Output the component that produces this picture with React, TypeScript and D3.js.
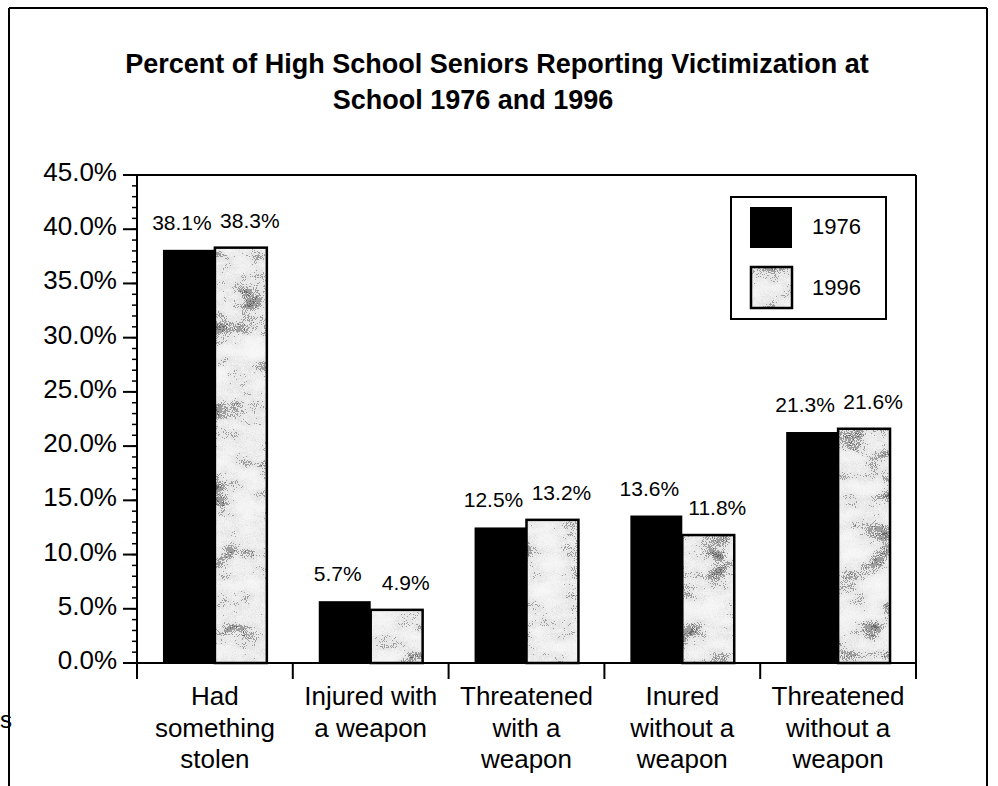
import React from 'react';
import * as d3 from 'd3';

const titleLines = ['Percent of High School Seniors Reporting Victimization at', 'School 1976 and 1996'];
const categories = [
  ['Had', 'something', 'stolen'],
  ['Injured with', 'a weapon'],
  ['Threatened', 'with a', 'weapon'],
  ['Inured', 'without a', 'weapon'],
  ['Threatened', 'without a', 'weapon'],
];
const seriesNames = ['1976', '1996'];
const values1976 = [38.1, 5.7, 12.5, 13.6, 21.3];
const values1996 = [38.3, 4.9, 13.2, 11.8, 21.6];
const yTickValues = [0, 5, 10, 15, 20, 25, 30, 35, 40, 45];

const font = '"Liberation Sans", Arial, Helvetica, sans-serif';

const App = () => {
  const width = 998;
  const height = 786;
  const marginLeft = 137;
  const marginRight = 82;
  const marginTop = 175;
  const marginBottom = 123;

  const x0 = d3.scaleBand()
    .domain(categories.map((_, i) => String(i)))
    .range([marginLeft, width - marginRight])
    .padding(0);

  const step = x0.bandwidth();
  const x1 = d3.scaleBand()
    .domain(seriesNames)
    .range([step / 6, (step * 5) / 6])
    .padding(0);

  const y = d3.scaleLinear()
    .domain([0, 45])
    .range([height - marginBottom, marginTop]);

  const minorTicks = d3.range(0, 46, 1);
  const fmt = (v: number) => v.toFixed(1) + '%';

  const bars = categories.flatMap((_, i) => [
    { key: '1976', i, v: values1976[i] },
    { key: '1996', i, v: values1996[i] },
  ]);

  const x0Pos = (i: number) => x0(String(i)) as number;

  return (
    <svg
      width={width}
      height={height}
      style={{ position: 'absolute', left: 0, top: 0, background: '#fff' }}
      fontFamily={font}
    >
      <defs>
        <filter id="mottle" x="0" y="0" width="100%" height="100%" colorInterpolationFilters="sRGB">
          <feTurbulence type="fractalNoise" baseFrequency="1.1" numOctaves="1" seed="4" result="f0" />
          <feColorMatrix in="f0" type="matrix" values="1 0 0 0 0  1 0 0 0 0  1 0 0 0 0  0 0 0 0 1" result="fine" />
          <feTurbulence type="fractalNoise" baseFrequency="0.03 0.05" numOctaves="3" seed="9" result="c0" />
          <feColorMatrix in="c0" type="matrix" values="1 0 0 0 0  1 0 0 0 0  1 0 0 0 0  0 0 0 0 1" result="coarse" />
          <feComposite in="fine" in2="coarse" operator="arithmetic" k1="0" k2="0.55" k3="0.8" k4="-0.17" result="mix" />
          <feComponentTransfer in="mix" result="thr">
            <feFuncR type="discrete" tableValues="0.97 0.97 0.96 0.94 0.9 0.62 0.42 0.3" />
            <feFuncG type="discrete" tableValues="0.97 0.97 0.96 0.94 0.9 0.62 0.42 0.3" />
            <feFuncB type="discrete" tableValues="0.97 0.97 0.96 0.94 0.9 0.62 0.42 0.3" />
          </feComponentTransfer>
          <feComposite in="thr" in2="SourceGraphic" operator="in" />
        </filter>
      </defs>

      {/* outer frame */}
      <line x1={9} y1={8} x2={9} y2={height} stroke="#000" strokeWidth={2} />
      <line x1={9} y1={8} x2={987} y2={8} stroke="#000" strokeWidth={2} />
      <line x1={987} y1={8} x2={987} y2={height} stroke="#000" strokeWidth={2} />
      <text x={0} y={728} fontSize={24} fill="#000">s</text>

      {/* title */}
      <text x={497} y={73} fontSize={27} fontWeight="bold" textAnchor="middle">{titleLines[0]}</text>
      <text x={473} y={109} fontSize={27} fontWeight="bold" textAnchor="middle">{titleLines[1]}</text>

      {/* bars */}
      {bars.map(b => {
        const bx = x0Pos(b.i) + (x1(b.key) as number);
        const by = y(b.v);
        const bh = y(0) - by;
        const bw = x1.bandwidth();
        return b.key === '1976' ? (
          <rect key={b.key + b.i} x={bx} y={by} width={bw} height={bh} fill="#000" />
        ) : (
          <g key={b.key + b.i}>
            <rect x={bx} y={by} width={bw} height={bh} fill="#fff" filter="url(#mottle)" />
            <rect x={bx} y={by} width={bw} height={bh} fill="none" stroke="#000" strokeWidth={2.5} />
          </g>
        );
      })}

      {/* value labels */}
      {bars.map(b => {
        const cx = x0Pos(b.i) + (x1(b.key) as number) + x1.bandwidth() / 2 + (b.key === '1976' ? -7 : 9);
        return (
          <text key={'l' + b.key + b.i} x={cx} y={y(b.v) - 20} fontSize={21} textAnchor="middle">
            {fmt(b.v)}
          </text>
        );
      })}

      {/* plot frame top + right */}
      <line x1={marginLeft} y1={marginTop} x2={width - marginRight} y2={marginTop} stroke="#000" strokeWidth={2} />
      <line x1={width - marginRight} y1={marginTop} x2={width - marginRight} y2={y(0)} stroke="#000" strokeWidth={2} />

      {/* y axis */}
      <line x1={marginLeft} y1={marginTop} x2={marginLeft} y2={y(0)} stroke="#000" strokeWidth={2} />
      {minorTicks.map(t => (
        <line key={'m' + t} x1={marginLeft - 5} x2={marginLeft} y1={y(t)} y2={y(t)} stroke="#000" strokeWidth={1.5} />
      ))}
      {yTickValues.map(t => (
        <g key={'t' + t}>
          <line x1={marginLeft - 14} x2={marginLeft} y1={y(t)} y2={y(t)} stroke="#000" strokeWidth={2} />
          <text x={117} y={y(t) + 6} fontSize={26} textAnchor="end">{fmt(t)}</text>
        </g>
      ))}

      {/* x axis */}
      <line x1={marginLeft} y1={y(0)} x2={width - marginRight} y2={y(0)} stroke="#000" strokeWidth={2} />
      {d3.range(categories.length + 1).map(i => {
        const tx = marginLeft + i * step;
        return <line key={'xt' + i} x1={tx} x2={tx} y1={y(0)} y2={y(0) + 16} stroke="#000" strokeWidth={2} />;
      })}
      {categories.map((lines, i) => (
        <text key={'c' + i} x={x0Pos(i) + step / 2} y={705} fontSize={26} textAnchor="middle">
          {lines.map((ln, j) => (
            <tspan key={j} x={x0Pos(i) + step / 2} y={705 + j * 31.5}>{ln}</tspan>
          ))}
        </text>
      ))}

      {/* legend */}
      <rect x={731} y={197} width={155} height={122} fill="#fff" stroke="#000" strokeWidth={2} />
      <rect x={750} y={207} width={42} height={41} fill="#000" />
      <rect x={751} y={267} width={41} height={41} fill="#fff" filter="url(#mottle)" />
      <rect x={751} y={267} width={41} height={41} fill="none" stroke="#000" strokeWidth={2.5} />
      <text x={812} y={234} fontSize={22}>{seriesNames[0]}</text>
      <text x={812} y={295} fontSize={22}>{seriesNames[1]}</text>
    </svg>
  );
};

export default App;
